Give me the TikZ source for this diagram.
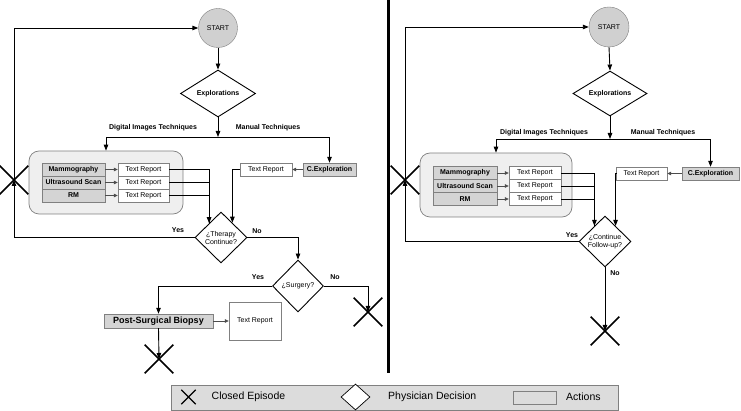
\documentclass[tikz,border=0pt]{standalone}
\usepackage{fontspec}
\setmainfont{Liberation Sans}
\usetikzlibrary{shapes.geometric,shapes.misc,arrows.meta,calc}
\definecolor{boxgray}{HTML}{D4D4D4}
\definecolor{grpgray}{HTML}{EFEFEF}
\definecolor{startgray}{HTML}{D0D0D0}
\definecolor{leggray}{HTML}{DCDCDC}
\definecolor{edgegray}{HTML}{808080}
\newcommand\smallfs{\fontsize{7}{8}\selectfont}
\begin{document}
\begin{tikzpicture}[x=1pt,y=-1pt,
  arr/.style={-{Triangle[length=6pt,width=4.5pt]}, line width=0.9pt},
  conn/.style={line width=0.9pt},
  garr/.style={-{Triangle[length=4pt,width=3.5pt]}, draw=gray!60!black, line width=0.7pt},
  tech/.style={draw=edgegray, fill=boxgray, minimum height=13pt, inner sep=0pt, font=\smallfs\bfseries},
  repbox/.style={draw=edgegray, fill=white, minimum height=13pt, inner sep=0pt, font=\smallfs},
  grp/.style={draw=edgegray, fill=grpgray, rounded corners=10pt, line width=0.7pt},
  dec/.style={diamond, draw, line width=0.9pt, fill=white, inner sep=0pt, aspect=1, font=\smallfs, align=center},
  endx/.style={cross out, draw, line width=1.6pt, minimum width=27pt, minimum height=27pt, inner sep=0pt},
  startnode/.style={circle, draw=edgegray, fill=startgray, minimum size=39pt, inner sep=0pt, font=\smallfs},
  lab/.style={font=\smallfs\bfseries, inner sep=0pt}
]
\useasboundingbox (0,0) rectangle (741,411);

% divider
\draw[line width=3pt] (388,0) -- (388,373);

% ================= LEFT PANEL =================
\node[startnode] (sL) at (218,28) {START};
\node[dec, minimum width=75pt, minimum height=47pt, aspect=1.6, font=\smallfs\bfseries] (eL) at (218,93.5) {Explorations};
\coordinate (jL) at (218,137);
\node[lab] at (153,128) {Digital Images Techniques};
\node[lab] at (268,128) {Manual Techniques};

\node[grp, minimum width=154pt, minimum height=63pt] (gL) at (106,182.5) {};
\node[tech, minimum width=63pt] (m1L) at (73.5,169.5) {Mammography};
\node[tech, minimum width=63pt] (m2L) at (73.5,182.5) {Ultrasound Scan};
\node[tech, minimum width=63pt] (m3L) at (73.5,195.5) {RM};
\node[repbox, minimum width=51pt] (r1L) at (143.5,169.5) {Text Report};
\node[repbox, minimum width=51pt] (r2L) at (143.5,182.5) {Text Report};
\node[repbox, minimum width=51pt] (r3L) at (143.5,195.5) {Text Report};

\node[tech, minimum width=53pt] (cL) at (329.5,169.5) {C.Exploration};
\node[repbox, minimum width=52pt] (rmL) at (266,169.5) {Text Report};

\node[dec, minimum width=52pt, minimum height=51pt] (tL) at (221,237.5) {¿Therapy\\Continue?};
\node[dec, minimum width=51pt, minimum height=52pt] (suL) at (298,286) {¿Surgery?};

\node[tech, minimum width=109pt, minimum height=14pt, font=\fontsize{9}{10}\selectfont\bfseries] (bL) at (158.5,321) {Post-Surgical Biopsy};
\node[repbox, minimum width=52pt, minimum height=38pt] (rbL) at (255,321) {Text Report};

\node[endx] (x1L) at (14,180) {};
\node[endx] (x2L) at (368,312) {};
\node[endx] (x3L) at (159,359) {};

\coordinate (dlL) at ($(tL.west)!0.55!(tL.north)$);
\coordinate (drL) at ($(tL.east)!0.57!(tL.north)$);

\draw[arr] (sL.south) -- (eL.north);
\draw[arr] (eL.south) -- (jL);
\draw[arr] (jL) -| (gL.north);
\draw[arr] (jL) -| (cL.north);
\draw[garr] (m1L.east) -- (r1L.west);
\draw[garr] (m2L.east) -- (r2L.west);
\draw[garr] (m3L.east) -- (r3L.west);
\draw[garr] (cL.west) -- (rmL.east);
\draw[conn] (r2L.east) -| (dlL);
\draw[conn] (r3L.east) -| (dlL);
\draw[arr] (r1L.east) -| (dlL);
\draw[arr] (rmL.west) -| (drL);
\draw[arr] (tL.west) -| (x1L.center);
\draw[arr] (x1L.center) |- (sL.west);
\draw[arr] (tL.east) -| (suL.north);
\draw[arr] (suL.west) -| (bL.north);
\draw[arr] (suL.east) -| (x2L.center);
\draw[garr] (bL.east) -- (rbL.west);
\draw[arr] (bL.south) -- (x3L.center);

\node[lab] at (178,230) {Yes};
\node[lab] at (257,231.5) {No};
\node[lab] at (258,277) {Yes};
\node[lab] at (335,277) {No};

% ================= RIGHT PANEL =================
\node[startnode, minimum size=40pt] (sR) at (609,27) {START};
\node[dec, minimum width=74pt, minimum height=45pt, aspect=1.6, font=\smallfs\bfseries] (eR) at (610,93.5) {Explorations};
\coordinate (jR) at (610,139);
\node[lab] at (544,133) {Digital Images Techniques};
\node[lab] at (663,133) {Manual Techniques};

\node[grp, minimum width=152pt, minimum height=64pt] (gR) at (496,185) {};
\node[tech, minimum width=64pt] (m1R) at (465,173) {Mammography};
\node[tech, minimum width=64pt] (m2R) at (465,186) {Ultrasound Scan};
\node[tech, minimum width=64pt] (m3R) at (465,199) {RM};
\node[repbox, minimum width=52pt] (r1R) at (535,173) {Text Report};
\node[repbox, minimum width=52pt] (r2R) at (535,186) {Text Report};
\node[repbox, minimum width=52pt] (r3R) at (535,199) {Text Report};

\node[tech, minimum width=57pt] (cR) at (710.5,173.5) {C.Exploration};
\node[repbox, minimum width=51pt] (rmR) at (641.5,173.5) {Text Report};

\node[dec, minimum width=52pt, minimum height=51pt] (tR) at (605,241.5) {¿Continue\\Follow-up?};

\node[endx] (x1R) at (405,180) {};
\node[endx] (x2R) at (605,331) {};

\coordinate (dlR) at ($(tR.west)!0.6!(tR.north)$);
\coordinate (drR) at ($(tR.east)!0.6!(tR.north)$);

\draw[arr] (sR.south) -- (eR.north);
\draw[arr] (eR.south) -- (jR);
\draw[arr] (jR) -| (gR.north);
\draw[arr] (jR) -| (cR.north);
\draw[garr] (m1R.east) -- (r1R.west);
\draw[garr] (m2R.east) -- (r2R.west);
\draw[garr] (m3R.east) -- (r3R.west);
\draw[garr] (cR.west) -- (rmR.east);
\draw[conn] (r2R.east) -| (dlR);
\draw[conn] (r3R.east) -| (dlR);
\draw[arr] (r1R.east) -| (dlR);
\draw[arr] (rmR.west) -| (drR);
\draw[arr] (tR.west) -| (x1R.center);
\draw[arr] (x1R.center) |- (sR.west);
\draw[arr] (tR.south) -- (x2R.center);

\node[lab] at (572,235) {Yes};
\node[lab] at (615,273) {No};

% ================= LEGEND =================
\node[draw=edgegray, fill=leggray, minimum width=447pt, minimum height=25pt, inner sep=0pt] (leg) at (394.5,397.5) {};
\node[cross out, draw, line width=1.3pt, minimum width=13pt, minimum height=13pt, inner sep=0pt] (lx) at (188.5,397) {};
\node[anchor=west, inner sep=0pt, font=\fontsize{10.5}{12}\selectfont] (lxt) at (211.5,397) {Closed Episode};
\node[diamond, draw, fill=white, line width=0.7pt, minimum width=29pt, minimum height=26pt, inner sep=0pt] (ld) at (355.5,397) {};
\node[anchor=west, inner sep=0pt, font=\fontsize{10.5}{12}\selectfont] (ldt) at (388,397) {Physician Decision};
\node[draw=edgegray, fill=leggray, minimum width=43pt, minimum height=13pt, inner sep=0pt] (lr) at (534.5,397.5) {};
\node[anchor=west, inner sep=0pt, font=\fontsize{10.5}{12}\selectfont] (lrt) at (566,397) {Actions};
\end{tikzpicture}
\end{document}
